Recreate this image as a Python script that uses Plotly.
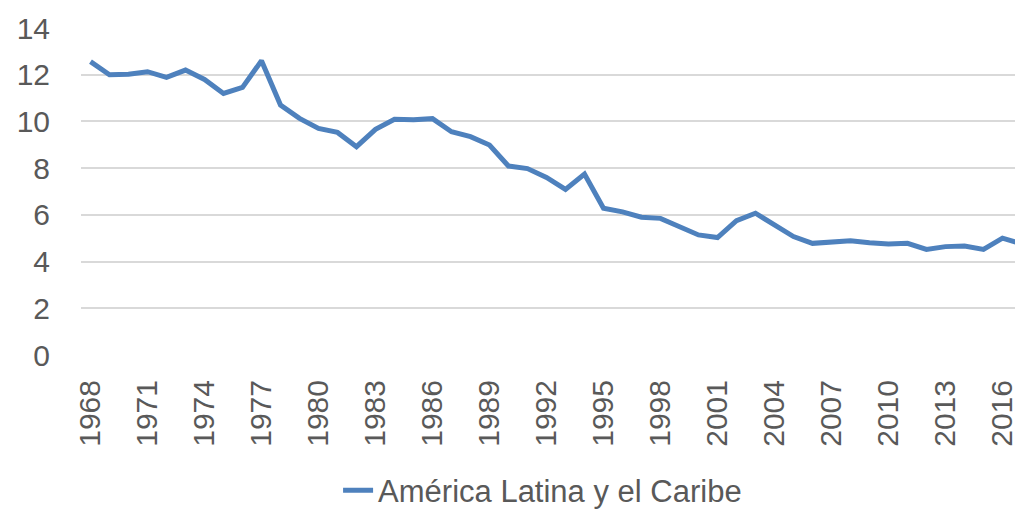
import plotly.graph_objects as go

# Serie anual, America Latina y el Caribe
years = list(range(1968, 2018))
values = [
    12.56, 12.00, 12.02, 12.13, 11.89, 12.20, 11.80, 11.20, 11.46, 12.60,
    10.70, 10.13, 9.70, 9.53, 8.92, 9.66, 10.09, 10.07, 10.12, 9.56,
    9.35, 8.99, 8.09, 7.98, 7.60, 7.09, 7.75, 6.28, 6.13, 5.90,
    5.85, 5.49, 5.14, 5.03, 5.75, 6.07, 5.57, 5.07, 4.78, 4.85,
    4.89, 4.81, 4.75, 4.78, 4.52, 4.64, 4.67, 4.52, 5.00, 4.76,
]
tick_years = list(range(1968, 2017, 3))
y_ticks = [0, 2, 4, 6, 8, 10, 12, 14]

font_color = '#595959'

fig = go.Figure()
fig.add_trace(go.Scatter(x=years, y=values, mode='lines',
                         line=dict(color='#4E81BD', width=5),
                         name='América Latina y el Caribe'))

# page body has an 8px margin, so the figure is a bit smaller and shifted
fig.update_layout(
    width=1015, height=504,
    margin=dict(l=73, r=0, t=20, b=157, autoexpand=False),
    paper_bgcolor='white', plot_bgcolor='white',
    font=dict(family='Liberation Sans, Arial, sans-serif', size=30, color=font_color),
    showlegend=True,
    legend=dict(orientation='h', x=0.49, xanchor='center', y=-0.415, yanchor='middle',
                font=dict(size=31, color=font_color)),
)
fig.update_xaxes(range=[1967.5, 2017.08], tickvals=tick_years, tickangle=-90,
                 ticklabelstandoff=18, tickfont=dict(size=30), ticklabeloverflow='allow',
                 showgrid=False, zeroline=False, showline=False, ticks='')
fig.update_yaxes(range=[0, 14], tickvals=y_ticks, showgrid=True, gridcolor='#D9D9D9',
                 gridwidth=1.5, ticklabelstandoff=30, tickfont=dict(size=30),
                 zeroline=False, showline=False, ticks='')

fig.write_html("out.html")
